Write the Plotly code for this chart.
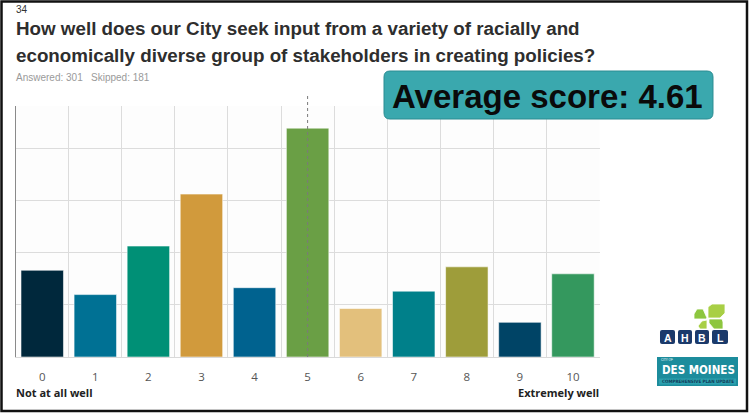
import plotly.graph_objects as go

W, H = 755, 414

categories = ["0", "1", "2", "3", "4", "5", "6", "7", "8", "9", "10"]
percent = [8.31, 5.98, 10.63, 15.61, 6.64, 21.93, 4.65, 6.31, 8.64, 3.32, 7.97]
bar_colors = ["#00283C", "#007194", "#009076", "#D19A3C", "#00628F", "#6A9F45",
              "#E3C07C", "#00808A", "#9E9D3A", "#004466", "#34985E"]
title_lines = ["How well does our City seek input from a variety of racially and",
               "economically diverse group of stakeholders in creating policies?"]
question_no = "34"
answered_text = "Answered: 301   Skipped: 181"
average_text = "Average score: 4.61"
median_value = 5
left_label = "Not at all well"
right_label = "Extremely well"


def px(x):
    return x / W


def py(y):
    return 1 - y / H


def P(x, y):
    return f"{px(x):.5f},{py(y):.5f}"


def rrect(x0, y0, x1, y1, r):
    return (f"M {P(x0+r,y0)} L {P(x1-r,y0)} Q {P(x1,y0)} {P(x1,y0+r)} "
            f"L {P(x1,y1-r)} Q {P(x1,y1)} {P(x1-r,y1)} L {P(x0+r,y1)} "
            f"Q {P(x0,y1)} {P(x0,y1-r)} L {P(x0,y0+r)} Q {P(x0,y0)} {P(x0+r,y0)} Z")


x_vals = list(range(len(categories)))

fig = go.Figure()
fig.add_trace(go.Bar(
    x=x_vals, y=percent, width=0.8,
    marker=dict(color=bar_colors, line=dict(color="rgba(255,255,255,0.55)", width=1)),
    hoverinfo="y",
))

plot_x0, plot_x1 = 15.7, 599.5
plot_y0, plot_y1 = 357, 106

fig.update_layout(
    template="none",
    width=W, height=H,
    margin=dict(l=0, r=0, t=0, b=0),
    paper_bgcolor="white", plot_bgcolor="#fdfdfd",
    showlegend=False,
    bargap=0.2,
    font=dict(family="Open Sans, Noto Sans, sans-serif", color="#555"),
    xaxis=dict(
        domain=[px(plot_x0), px(plot_x1)],
        range=[-0.5, 10.5],
        tickmode="array", tickvals=x_vals, ticktext=categories,
        showgrid=False, zeroline=False,
        ticks="outside", ticklen=9, tickcolor="rgba(0,0,0,0)",
        tickfont=dict(family="Open Sans, Noto Sans, sans-serif", size=11.5, color="#555555"),
        showline=True, linecolor="#d9d9d9", linewidth=1,
        minor=dict(tickmode="linear", tick0=-0.5, dtick=1, showgrid=True,
                   gridcolor="#dcdcdc", gridwidth=1, ticks=""),
        fixedrange=True,
    ),
    yaxis=dict(
        domain=[py(plot_y0), py(plot_y1)],
        range=[0, 24.05],
        tickmode="linear", tick0=0, dtick=5,
        showticklabels=False, ticks="", showgrid=True, gridcolor="#dcdcdc", gridwidth=1,
        zeroline=False, showline=True, linecolor="#8a8a8a", linewidth=1,
        fixedrange=True,
    ),
)

shapes = []
# median dotted line
shapes.append(dict(type="line", xref="x", yref="paper", x0=median_value, x1=median_value,
                   y0=py(plot_y0), y1=py(94), line=dict(color="#7a7a7a", width=1, dash="dot")))
# outer frame
shapes.append(dict(type="rect", xref="paper", yref="paper", x0=px(1.5), x1=px(747),
                   y0=py(411), y1=py(1.5), line=dict(color="#111", width=2.5), layer="above"))
# average score box
shapes.append(dict(type="path", xref="paper", yref="paper", path=rrect(384, 71, 713, 119, 6),
                   fillcolor="#3AA8AE", line=dict(color="#2B8C92", width=1)))

# leaf logo (approximation)
leaf = "#8DC63F"
leaf2 = "#A8CF45"


def petal(pts, color):
    d = "M " + " L ".join(P(a, b) for a, b in pts) + " Z"
    shapes.append(dict(type="path", xref="paper", yref="paper", path=d,
                       fillcolor=color, line=dict(color="white", width=0.8)))


cx, cy = 708, 318
petal([(cx, cy), (cx, 307), (cx + 4, 304), (725, 304), (725, 313), (cx + 12, cy)], leaf2)
petal([(cx - 1, cy), (cx - 5, 309), (cx - 11, 309), (694, 314), (694, 319), (cx - 2, cy + 1)], leaf)
petal([(cx + 1, cy + 1), (cx + 14, cy + 1), (723, 322), (723, 329), (cx + 6, 329), (cx + 1, cy + 5)], leaf)
petal([(cx - 1, cy + 2), (cx - 1, 329), (cx - 8, 329), (cx - 10, 326), (cx - 6, cy + 3)], leaf2)

# AHBL boxes
ahbl = ["A", "H", "B", "L"]
box_x = [660, 678, 695, 712]
box_w = [15, 14, 14, 16]
for letter, bx, bw in zip(ahbl, box_x, box_w):
    shapes.append(dict(type="path", xref="paper", yref="paper", path=rrect(bx, 330, bx + bw, 344, 2),
                       fillcolor="#1B3A6B", line=dict(width=0)))
# Des Moines box
shapes.append(dict(type="rect", xref="paper", yref="paper", x0=px(657), x1=px(738),
                   y0=py(386), y1=py(357), fillcolor="#1C8C9C", line=dict(width=0)))
shapes.append(dict(type="rect", xref="paper", yref="paper", x0=px(659), x1=px(736),
                   y0=py(384.5), y1=py(378.5), fillcolor="#2BA0AE", line=dict(width=0)))
fig.update_layout(shapes=shapes)

ann = []


def text(x, y, s, size, color="#333", bold=False, xanchor="left",
         family="Liberation Sans, Arial, sans-serif"):
    ann.append(dict(xref="paper", yref="paper", x=px(x), y=py(y), text=(f"<b>{s}</b>" if bold else s),
                    showarrow=False, xanchor=xanchor, yanchor="middle",
                    font=dict(family=family, size=size, color=color)))


text(14, 10, question_no, 10, "#333")
text(14, 29, title_lines[0], 18.8, "#2e2e2e", bold=True)
text(14, 55, title_lines[1], 18.8, "#2e2e2e", bold=True)
text(14, 78, answered_text, 10, "#9a9a9a")
text(547, 96, average_text, 33, "#0a0a0a", bold=True, xanchor="center")
text(14, 392, left_label, 11, "#222", bold=True, family="Open Sans, Noto Sans, sans-serif")
text(601, 392, right_label, 11, "#222", bold=True, xanchor="right", family="Open Sans, Noto Sans, sans-serif")
for letter, bx, bw in zip(ahbl, box_x, box_w):
    text(bx + bw / 2, 337.5, letter, 10.5, "white", bold=True, xanchor="center")
text(659, 360, "CITY OF", 3, "white")
text(698.5, 369.5, "DES MOINES", 11.5, "white", bold=True, xanchor="center",
     family="DejaVu Sans Condensed, Liberation Sans Narrow, sans-serif")
text(697.5, 381.5, "COMPREHENSIVE PLAN UPDATE", 4.5, "#123c5a", bold=True, xanchor="center",
     family="DejaVu Sans Condensed, Liberation Sans Narrow, sans-serif")
fig.update_layout(annotations=ann)

fig.write_html("out.html", config={"displayModeBar": False},
               post_script="document.body.style.margin='0';document.body.style.overflow='hidden';")
